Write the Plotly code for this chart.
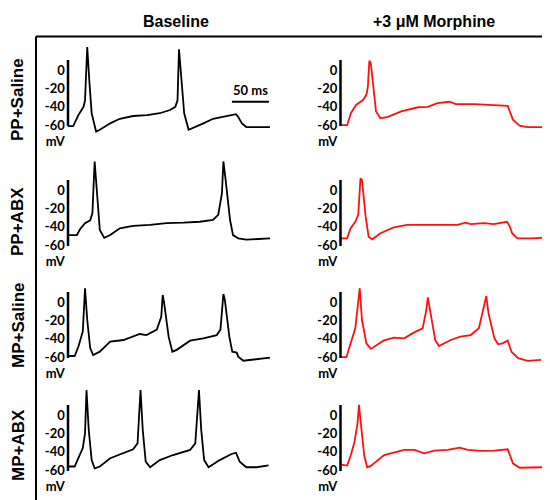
import plotly.graph_objects as go

# ---------------- data (time in ms, membrane potential in mV) ----------------
COL_TITLES = ["Baseline", "+3 \u03bcM Morphine"]
ROW_LABELS = ["PP+Saline", "PP+ABX", "MP+Saline", "MP+ABX"]
TICK_VALS = [0, -20, -40, -60]
TICK_TEXT = ["0", "-20", "-40", "-60"]
UNIT_LABEL = "mV"

T_PP_SAL_BASE = [0, 7, 14, 21, 23, 26, 29, 32, 38, 43, 57, 70, 88, 107, 124, 138, 145, 148, 150, 154, 157, 163, 169, 183, 196, 214, 227, 230, 235, 241, 255, 273]
V_PP_SAL_BASE = [-61, -61, -49, -40, -33, 25, -14, -47, -67, -65, -58, -53, -50, -49, -47, -43.5, -40, -33, 22.5, -14, -47, -65, -63, -58, -53, -50, -48, -51, -58, -62, -62, -62]

T_PP_SAL_MOR = [1, 9, 14, 21, 30, 35, 37, 39, 41, 45, 48, 54, 64, 82, 105, 118, 131, 147, 156, 181, 204, 226, 228, 233, 242, 253, 273]
V_PP_SAL_MOR = [-60, -60, -47, -38, -33, -27, -18, 10, 7, -22, -45, -52.5, -51, -45, -40.5, -40, -36, -34.5, -37, -37, -38, -39, -43.5, -54, -60.5, -62, -62]

T_PP_ABX_BASE = [0, 12, 16, 23, 30, 33, 36, 39, 43, 49, 57, 70, 88, 111, 133, 156, 178, 196, 203, 208, 210, 213, 219, 223, 230, 241, 259, 273]
V_PP_ABX_BASE = [-49, -49, -43, -36, -33, -25, 31, 0, -43.5, -52, -49, -41.7, -39, -38, -36, -35.5, -34.5, -32.6, -27, -3.6, 31, 11, -32.6, -49, -52.5, -54, -53.6, -52.5]

T_PP_ABX_MOR = [0, 9, 13.5, 20, 24, 27, 29, 34, 38, 43, 54, 72, 90, 117, 158, 169, 176, 194, 207, 225, 229, 232, 239, 257, 273]
V_PP_ABX_MOR = [-52.5, -52.5, -41.7, -34.5, -27, 12.7, 11, -29, -50.7, -53.6, -47, -40.6, -38, -38, -38, -35.5, -37, -36, -37, -34.5, -40, -47, -52.5, -52.5, -52]

T_MP_SAL_BASE = [0, 9, 14, 20, 23, 26, 30, 34, 43, 57, 75, 97, 106, 120, 126, 128, 130, 136, 141, 147, 165, 183, 201, 206, 210, 212, 218, 222, 228, 230, 237, 255, 273]
V_MP_SAL_BASE = [-58.7, -58.7, -48.6, -32, 15, -19.6, -50, -57.6, -54, -43, -41.3, -34.8, -35.9, -30, -16, 7.6, -1.4, -37.7, -54, -52, -42, -39.5, -36, -30, 8.7, 2, -37.7, -54, -55, -59.4, -63.8, -62.3, -60.5]

T_MP_SAL_MOR = [0, 8, 13, 20, 26, 29, 35, 41, 58, 72, 86, 99, 111, 116, 118, 122, 128, 133, 149, 162, 176, 187, 193, 197, 200, 208, 213, 219, 226, 231, 240, 253, 271]
V_MP_SAL_MOR = [-60, -60, -46.7, -28.6, 15, -19.6, -45, -51, -42, -38.8, -39.5, -33.3, -28.6, -8.7, 5, -12.3, -41.3, -47.8, -41.3, -37.7, -35.9, -28.6, -8.7, 6.5, -12.3, -39.5, -46, -45, -42, -54, -61, -64, -63]

T_MP_ABX_BASE = [0, 9, 14, 20, 23, 25, 28, 32, 36, 43, 57, 75, 88, 94, 96, 98, 101, 105, 111, 124, 142, 165, 172, 175, 177, 180, 184, 190, 205, 221, 227, 232, 241, 255, 271]
V_MP_ABX_BASE = [-56, -56, -47, -36, -20, 27, -16, -49, -58, -56, -47, -41.7, -37.3, -30.8, 1.8, 27, -16, -50.7, -56.8, -49, -43.5, -38, -30.8, 1.8, 27, -16, -49, -56.8, -49, -42.4, -41, -50.7, -56.8, -56.8, -54.7]

T_MP_ABX_MOR = [1, 9, 14, 19, 23, 25, 27, 32, 36, 41, 59, 86, 100, 113, 127, 145, 161, 172, 190, 208, 226, 229, 233, 242, 258, 273]
V_MP_ABX_MOR = [-54, -55, -43.5, -29, -9, 11, -5.4, -43.5, -56.8, -55.4, -43.5, -38, -38, -41.7, -38.8, -38, -35.5, -38, -39, -38.8, -37.3, -43.5, -52.5, -57.3, -56.8, -56.8]

TRACES = [
    (T_PP_SAL_BASE, V_PP_SAL_BASE), (T_PP_SAL_MOR, V_PP_SAL_MOR),
    (T_PP_ABX_BASE, V_PP_ABX_BASE), (T_PP_ABX_MOR, V_PP_ABX_MOR),
    (T_MP_SAL_BASE, V_MP_SAL_BASE), (T_MP_SAL_MOR, V_MP_SAL_MOR),
    (T_MP_ABX_BASE, V_MP_ABX_BASE), (T_MP_ABX_MOR, V_MP_ABX_MOR),
]
COL_COLORS = ["#000000", "#ff1010"]

# scale bars
VBAR_BOTTOM, VBAR_TOP = -61, 11        # vertical mV bar (panel units)
HBAR_T0, HBAR_LEN, HBAR_V = 221.5, 50, -34.5  # 50 ms bar in first panel
HBAR_LABEL = "50 ms"

# ---------------- layout geometry ----------------
W, H = 550, 500
OFF = 8  # page body margin compensation (px)
PX_PER_MS = 0.74
PX_PER_MV = 0.92
X_RANGE = [-3, 276]
Y_RANGE = [-82, 35]
UNIT_V = -78
COL_T0_PX = [68 - OFF, 340.5 - OFF]
ROW_V0_PX = [v - OFF for v in (70, 190, 302, 415)]
ROW_LABEL_Y_PX = [v - OFF for v in (100, 222, 325, 445)]
COL_TITLE_X_PX = [x - OFF for x in (176, 434)]
TITLE_Y_PX = 21 - OFF
ROW_LABEL_X_PX = 18 - OFF
FRAME_X_PX = 36 - OFF
FRAME_Y_PX = 36.5 - OFF

NUM_FONT = dict(family="Lato, Carlito, Calibri, sans-serif", size=13, color="black", weight="bold")
HEAD_FONT = dict(family="Liberation Sans, Arial, sans-serif", size=16, color="black", weight="bold")
ROW_FONT = dict(family="Liberation Sans, Arial, sans-serif", size=17, color="black", weight="bold")

fig = go.Figure()
layout = {}
shapes = []
annotations = []

for i, (t, v) in enumerate(TRACES):
    r, c = divmod(i, 2)
    k = i + 1
    xn = "x" if k == 1 else f"x{k}"
    yn = "y" if k == 1 else f"y{k}"
    xl = "xaxis" if k == 1 else f"xaxis{k}"
    yl = "yaxis" if k == 1 else f"yaxis{k}"

    x0px = COL_T0_PX[c] + X_RANGE[0] * PX_PER_MS
    x1px = COL_T0_PX[c] + X_RANGE[1] * PX_PER_MS
    ytop = ROW_V0_PX[r] - Y_RANGE[1] * PX_PER_MV
    ybot = ROW_V0_PX[r] - Y_RANGE[0] * PX_PER_MV

    layout[xl] = dict(domain=[x0px / W, x1px / W], range=X_RANGE, visible=False,
                      anchor=yn, fixedrange=True)
    layout[yl] = dict(domain=[1 - ybot / H, 1 - ytop / H], range=Y_RANGE, anchor=xn,
                      showgrid=False, zeroline=False, showline=False, ticks="",
                      tickvals=TICK_VALS + [UNIT_V], ticktext=TICK_TEXT + [UNIT_LABEL],
                      tickfont=NUM_FONT, automargin=False, fixedrange=True,
                      ticklabelstandoff=0)

    fig.add_trace(go.Scatter(x=t, y=v, mode="lines", xaxis=xn, yaxis=yn,
                             line=dict(color=COL_COLORS[c], width=1.8),
                             hoverinfo="skip", showlegend=False))
    # vertical mV scale bar
    shapes.append(dict(type="line", xref=xn, yref=yn, x0=0, x1=0,
                       y0=VBAR_BOTTOM, y1=VBAR_TOP, line=dict(color="black", width=2.5)))

# 50 ms horizontal scale bar + label (first panel)
shapes.append(dict(type="line", xref="x", yref="y", x0=HBAR_T0, x1=HBAR_T0 + HBAR_LEN,
                   y0=HBAR_V, y1=HBAR_V, line=dict(color="black", width=2)))
annotations.append(dict(x=HBAR_T0 + HBAR_LEN / 2, y=HBAR_V, xref="x", yref="y",
                        xanchor="center", yanchor="bottom",
                        text=HBAR_LABEL, showarrow=False, yshift=2,
                        font=dict(NUM_FONT, size=13)))

# frame lines
shapes.append(dict(type="line", xref="paper", yref="paper", x0=FRAME_X_PX / W, x1=1,
                   y0=1 - FRAME_Y_PX / H, y1=1 - FRAME_Y_PX / H, line=dict(color="black", width=2)))
shapes.append(dict(type="line", xref="paper", yref="paper", x0=FRAME_X_PX / W, x1=FRAME_X_PX / W,
                   y0=1 - FRAME_Y_PX / H, y1=0, line=dict(color="black", width=2)))

# column titles
for c, title in enumerate(COL_TITLES):
    annotations.append(dict(x=COL_TITLE_X_PX[c] / W, y=1 - TITLE_Y_PX / H, xref="paper",
                            yref="paper", xanchor="center", yanchor="middle",
                            text=title, showarrow=False, font=HEAD_FONT))
# row labels
for r, lab in enumerate(ROW_LABELS):
    annotations.append(dict(x=ROW_LABEL_X_PX / W, y=1 - ROW_LABEL_Y_PX[r] / H, xref="paper",
                            yref="paper", xanchor="center", yanchor="middle",
                            text=lab, textangle=-90, showarrow=False, font=ROW_FONT))

fig.update_layout(width=W, height=H, margin=dict(l=0, r=0, t=0, b=0),
                  paper_bgcolor="white", plot_bgcolor="white",
                  shapes=shapes, annotations=annotations, showlegend=False, **layout)

fig.write_html("out.html")
